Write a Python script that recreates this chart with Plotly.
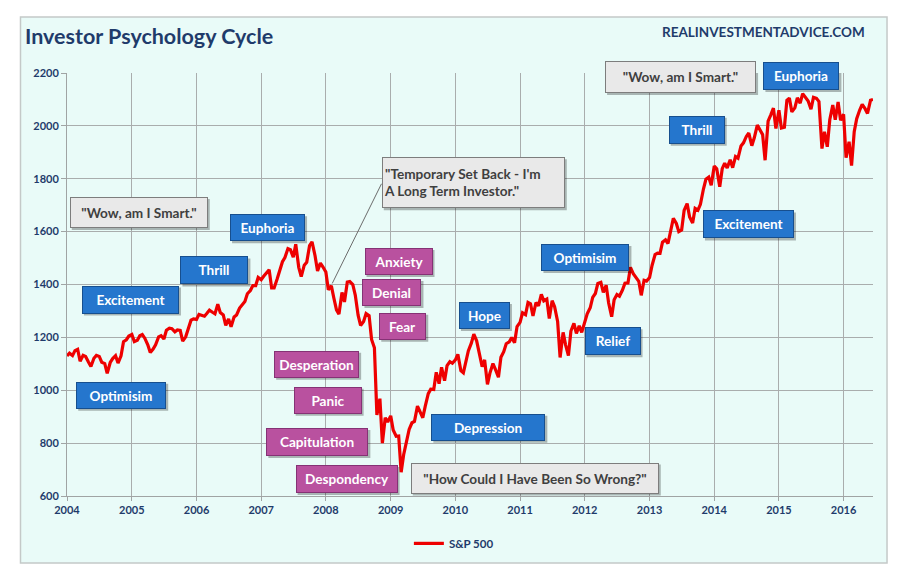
import pandas as pd
import plotly.graph_objects as go

# S&P 500 (about 1st and 15th of each month)
sp500 = [
    # 2004
    1130, 1140, 1131, 1150, 1155, 1110, 1132, 1128, 1107, 1090, 1121, 1132,
    1128, 1106, 1101, 1064, 1105, 1120, 1131, 1103, 1130, 1184, 1191, 1205,
    # 2005
    1211, 1184, 1189, 1206, 1211, 1197, 1172, 1143, 1156, 1172, 1202, 1206,
    1194, 1227, 1235, 1233, 1221, 1228, 1226, 1186, 1202, 1233, 1265, 1270,
    # 2006
    1268, 1287, 1282, 1280, 1291, 1303, 1295, 1289, 1325, 1294, 1285, 1245,
    1270, 1240, 1277, 1285, 1311, 1321, 1336, 1365, 1377, 1396, 1396, 1427,
    # 2007
    1418, 1431, 1445, 1456, 1387, 1387, 1421, 1452, 1486, 1502, 1536, 1532,
    1503, 1552, 1465, 1430, 1473, 1484, 1547, 1561, 1509, 1451, 1481, 1467,
    # 2008
    1447, 1380, 1395, 1349, 1304, 1288, 1370, 1334, 1409, 1411, 1400, 1360,
    1284, 1245, 1260, 1290, 1282, 1192, 1161, 907, 968, 800, 896, 880,
    # 2009
    903, 850, 826, 827, 690, 756, 811, 852, 877, 882, 940, 921,
    896, 940, 987, 1004, 1003, 1068, 1025, 1087, 1036, 1093, 1108, 1102,
    # 2010
    1115, 1136, 1074, 1066, 1104, 1149, 1178, 1212, 1187, 1136, 1089, 1115,
    1022, 1065, 1101, 1079, 1049, 1125, 1146, 1176, 1183, 1199, 1180, 1241,
    # 2011
    1257, 1293, 1286, 1332, 1327, 1281, 1332, 1319, 1363, 1338, 1345, 1271,
    1339, 1316, 1260, 1124, 1219, 1172, 1131, 1224, 1253, 1215, 1244, 1219,
    # 2012
    1258, 1289, 1312, 1351, 1366, 1404, 1408, 1370, 1397, 1330, 1278, 1342,
    1362, 1356, 1379, 1405, 1406, 1465, 1441, 1428, 1412, 1359, 1416, 1413,
    # 2013
    1426, 1472, 1513, 1519, 1518, 1560, 1569, 1555, 1614, 1650, 1631, 1600,
    1606, 1680, 1706, 1655, 1633, 1688, 1681, 1703, 1761, 1798, 1806, 1775,
    # 2014
    1848, 1838, 1770, 1838, 1859, 1841, 1872, 1842, 1884, 1878, 1924, 1936,
    1960, 1973, 1925, 1955, 2003, 1985, 1967, 1870, 2018, 2040, 2067, 1990,
    # 2015
    2059, 1992, 1995, 2097, 2105, 2053, 2068, 2106, 2086, 2122, 2107, 2094,
    2063, 2108, 2104, 2092, 1914, 1978, 1921, 2023, 2079, 2023, 2090, 2021,
    # 2016
    2044, 1880, 1940, 1850, 1978, 2027, 2060, 2081, 2065, 2047, 2097, 2100,
]
dates = pd.date_range('2004-01-01', periods=len(sp500), freq='SMS')

year_ticks = [str(y) for y in range(2004, 2017)]
y_ticks = [600, 800, 1000, 1200, 1400, 1600, 1800, 2000, 2200]

# stage labels: text, date, level, kind
labels = [
    ('"Wow, am I Smart."', '2005-02-09', 1672, 'gray'),
    ('Euphoria', '2007-02-06', 1615, 'blue'),
    ('Thrill', '2006-04-12', 1453, 'blue'),
    ('Excitement', '2004-12-24', 1343, 'blue'),
    ('Optimisim', '2004-11-02', 981, 'blue'),
    ('"Temporary Set Back - I\'m<br>A Long Term Investor."', '2010-04-12', 1785, 'gray'),
    ('Anxiety', '2009-02-14', 1487, 'pink'),
    ('Denial', '2009-01-08', 1370, 'pink'),
    ('Fear', '2009-03-10', 1242, 'pink'),
    ('Desperation', '2007-11-10', 1098, 'pink'),
    ('Panic', '2008-01-11', 962, 'pink'),
    ('Capitulation', '2007-11-14', 804, 'pink'),
    ('Despondency', '2008-04-27', 664, 'pink'),
    ('"How Could I Have Been So Wrong?"', '2011-03-25', 668, 'gray'),
    ('Depression', '2010-07-06', 860, 'blue'),
    ('Hope', '2010-06-14', 1283, 'blue'),
    ('Optimisim', '2012-01-05', 1502, 'blue'),
    ('Relief', '2012-06-06', 1185, 'blue'),
    ('Thrill', '2013-09-24', 1985, 'blue'),
    ('Excitement', '2014-07-13', 1627, 'blue'),
    ('"Wow, am I Smart."', '2013-06-25', 2185, 'gray'),
    ('Euphoria', '2015-05-08', 2189, 'blue'),
]
box_sizes = [(138, 31), (75, 27), (68, 28), (97, 28), (90, 27), (183, 51),
             (68, 27), (59, 27), (47, 27), (85, 27), (68, 27), (102, 28),
             (102, 28), (248, 31), (114, 27), (51, 27), (88, 27), (56, 28),
             (56, 28), (91, 28), (151, 32), (76, 28)]

styles = {
    'blue': dict(bg='#2576cd', border='#174f8e', text='white'),
    'pink': dict(bg='#b9519f', border='#853275', text='white'),
    'gray': dict(bg='#e9e9e9', border='#7d7d7d', text='#3f3f3f'),
}

navy = '#1f3b6b'
font = 'Lato'

fig = go.Figure()
fig.add_trace(go.Scatter(
    x=dates, y=sp500, mode='lines', name='<b>S&P 500</b>',
    line=dict(color='#ee0000', width=3.2)
))

annotations = []
shapes = [
    # light panel behind the whole chart
    dict(type='rect', xref='paper', yref='paper', x0=-0.0577, x1=1.0174,
         y0=-0.1584, y1=1.1324, fillcolor='#e9fbf8',
         line=dict(color='#c4c9c8', width=1.5), layer='below'),
    # leader line for the "Temporary Set Back" callout
    dict(type='line', xref='x', yref='y', x0='2008-11-10', y0=1781,
         x1='2008-02-06', y1=1404, line=dict(color='#6b6b6b', width=1)),
]
for (text, d, lvl, kind), (w, h) in zip(labels, box_sizes):
    st = styles[kind]
    # drop shadow under each box
    shapes.append(dict(
        type='rect', xref='x', yref='y', xsizemode='pixel', ysizemode='pixel',
        xanchor=d, yanchor=lvl, x0=-w / 2 + 2, x1=w / 2 + 2, y0=-h / 2 - 2, y1=h / 2 - 2,
        fillcolor='rgba(0,0,0,0.28)', line=dict(width=0), layer='above'
    ))
    annotations.append(dict(
        x=d, y=lvl, xref='x', yref='y', text='<b>' + text + '</b>', showarrow=False,
        width=w - 4, height=h - 4, borderpad=1, borderwidth=1,
        bgcolor=st['bg'], bordercolor=st['border'],
        font=dict(family=font, size=13.6, color=st['text']),
        align='left' if '<br>' in text else 'center'
    ))

annotations.append(dict(
    x=0.9926, y=1.097, xref='paper', yref='paper', xanchor='right', yanchor='middle',
    text='<b>REALINVESTMENTADVICE.COM</b>', showarrow=False,
    font=dict(family=font, size=13.5, color=navy)
))

# the page body adds an 8px offset, so margins are shifted to compensate
fig.update_layout(
    width=920, height=584,
    margin=dict(l=59, r=55, t=65, b=96),
    paper_bgcolor='white',
    plot_bgcolor='rgba(0,0,0,0)',
    title=dict(text='<b>Investor Psychology Cycle</b>', x=17 / 920, y=1 - 28 / 584,
               xref='container', yref='container', xanchor='left', yanchor='middle',
               font=dict(family=font, size=21.5, color=navy)),
    font=dict(family=font, color=navy),
    showlegend=True,
    legend=dict(orientation='h', x=0.48, y=-0.112, xanchor='center', yanchor='middle',
                font=dict(family=font, size=11.5, color=navy), bgcolor='rgba(0,0,0,0)',
                itemwidth=30),
    annotations=annotations,
    shapes=shapes,
)

fig.update_xaxes(
    type='date', range=['2004-01-01', '2016-06-15'],
    tickvals=[y + '-01-01' for y in year_ticks], ticktext=['<b>' + y + '</b>' for y in year_ticks],
    showgrid=True, gridcolor='#a9adad', gridwidth=1,
    showline=True, linecolor='#a0a4a4', linewidth=1,
    ticks='outside', ticklen=4, tickcolor='#a0a4a4',
    tickfont=dict(family=font, size=11, color=navy), zeroline=False
)
fig.update_yaxes(
    range=[600, 2200], tickvals=y_ticks, ticktext=['<b>%d</b>' % v for v in y_ticks],
    showgrid=True, gridcolor='#a9adad', gridwidth=1,
    showline=True, linecolor='#a0a4a4', linewidth=1,
    ticks='outside', ticklen=5, tickcolor='#a0a4a4',
    tickfont=dict(family=font, size=11, color=navy), zeroline=False
)

fig.write_html('out.html')
